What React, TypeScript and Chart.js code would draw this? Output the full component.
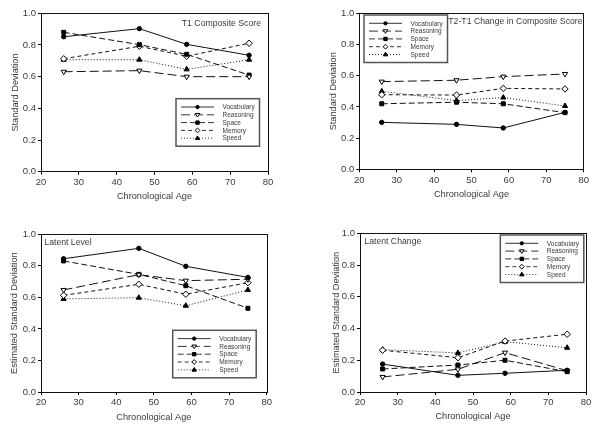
import React, { useEffect, useRef } from "react";
import { Chart, registerables } from "chart.js";

Chart.register(...registerables);

const AGES = [26, 46, 58.5, 75];
const SERIES_NAMES = ["Vocabulary", "Reasoning", "Space", "Memory", "Speed"];
const X_TITLE = "Chronological Age";

// values per series: Vocabulary, Reasoning, Space, Memory, Speed
const T1_COMPOSITE = [
  [0.852, 0.903, 0.804, 0.735],
  [0.631, 0.638, 0.6, 0.6],
  [0.88, 0.802, 0.741, 0.61],
  [0.713, 0.792, 0.729, 0.811],
  [0.707, 0.707, 0.646, 0.707],
];
const T2T1_CHANGE = [
  [0.301, 0.288, 0.265, 0.365],
  [0.562, 0.571, 0.594, 0.611],
  [0.42, 0.43, 0.42, 0.363],
  [0.478, 0.476, 0.519, 0.515],
  [0.5, 0.44, 0.46, 0.406],
];
const LATENT_LEVEL = [
  [0.845, 0.911, 0.797, 0.727],
  [0.647, 0.744, 0.706, 0.715],
  [0.831, 0.746, 0.674, 0.531],
  [0.613, 0.683, 0.62, 0.693],
  [0.59, 0.598, 0.547, 0.647],
];
const LATENT_CHANGE = [
  [0.176, 0.105, 0.118, 0.137],
  [0.095, 0.143, 0.248, 0.134],
  [0.145, 0.17, 0.2, 0.128],
  [0.263, 0.216, 0.321, 0.364],
  [0.267, 0.246, 0.317, 0.279],
];

const FONT = "'Liberation Sans', Arial, sans-serif";
const TEXT = "#3a3a3a";

type Marker = { shape: string; filled: boolean; r: number; dash: number[] };
const STYLES: Marker[] = [
  { shape: "circle", filled: true, r: 2.2, dash: [] },
  { shape: "down", filled: false, r: 3, dash: [9, 4] },
  { shape: "square", filled: true, r: 2.8, dash: [6, 3] },
  { shape: "diamond", filled: false, r: 3.2, dash: [4, 3] },
  { shape: "up", filled: true, r: 3, dash: [1, 2] },
];

function chartPointStyle(s: Marker) {
  if (s.shape === "circle") return { pointStyle: "circle", rotation: 0 };
  if (s.shape === "down") return { pointStyle: "triangle", rotation: 180 };
  if (s.shape === "square") return { pointStyle: "rect", rotation: 0 };
  if (s.shape === "diamond") return { pointStyle: "rectRot", rotation: 0 };
  return { pointStyle: "triangle", rotation: 0 };
}

function drawMarker(ctx: CanvasRenderingContext2D, s: Marker, x: number, y: number, r: number) {
  ctx.save();
  ctx.setLineDash([]);
  ctx.beginPath();
  if (s.shape === "circle") {
    ctx.arc(x, y, r, 0, Math.PI * 2);
  } else if (s.shape === "square") {
    ctx.rect(x - r * 0.8, y - r * 0.8, r * 1.6, r * 1.6);
  } else if (s.shape === "diamond") {
    ctx.moveTo(x, y - r);
    ctx.lineTo(x + r, y);
    ctx.lineTo(x, y + r);
    ctx.lineTo(x - r, y);
    ctx.closePath();
  } else if (s.shape === "down") {
    ctx.moveTo(x - r, y - r * 0.6);
    ctx.lineTo(x + r, y - r * 0.6);
    ctx.lineTo(x, y + r);
    ctx.closePath();
  } else {
    ctx.moveTo(x - r, y + r * 0.6);
    ctx.lineTo(x + r, y + r * 0.6);
    ctx.lineTo(x, y - r);
    ctx.closePath();
  }
  ctx.fillStyle = s.filled ? "#000" : "#fff";
  ctx.fill();
  ctx.strokeStyle = "#000";
  ctx.lineWidth = 1;
  ctx.stroke();
  ctx.restore();
}

type PanelSpec = {
  left: number;
  top: number;
  values: number[][];
  title: string;
  titleX: number;
  titleY: number;
  titleAlign: CanvasTextAlign;
  yTitle: string;
  pad: { left: number; right: number; top: number; bottom: number };
  wy: number;
  hx: number;
  legend: { x: number; y: number };
};

const PANELS: PanelSpec[] = [
  {
    left: 0, top: 0, values: T1_COMPOSITE, title: "T1 Composite Score",
    titleX: 261, titleY: 26, titleAlign: "right", yTitle: "Standard Deviation",
    pad: { left: 5, right: 32, top: 13.3, bottom: 14.3 }, wy: 36, hx: 30,
    legend: { x: 176, y: 98.7 },
  },
  {
    left: 300, top: 0, values: T2T1_CHANGE, title: "T2-T1 Change in Composite Score",
    titleX: 148.3, titleY: 24.3, titleAlign: "left", yTitle: "Standard Deviation",
    pad: { left: 23.6, right: 16.3, top: 13.3, bottom: 16.3 }, wy: 35.7, hx: 30.4,
    legend: { x: 64, y: 15 },
  },
  {
    left: 0, top: 216, values: LATENT_LEVEL, title: "Latent Level",
    titleX: 44.3, titleY: 29.3, titleAlign: "left", yTitle: "Estimated Standard Deviation",
    pad: { left: 4.3, right: 33.3, top: 18.3, bottom: 8.6 }, wy: 36.7, hx: 31.4,
    legend: { x: 172.7, y: 114.3 },
  },
  {
    left: 300, top: 216, values: LATENT_CHANGE, title: "Latent Change",
    titleX: 64.3, titleY: 28.3, titleAlign: "left", yTitle: "Estimated Standard Deviation",
    pad: { left: 26.3, right: 14, top: 17.3, bottom: 10.3 }, wy: 33.7, hx: 29.7,
    legend: { x: 200.3, y: 19 },
  },
];

function Panel({ spec }: { spec: PanelSpec }) {
  const ref = useRef<HTMLCanvasElement | null>(null);
  useEffect(() => {
    const canvas = ref.current;
    if (!canvas) return;

    const decor = {
      id: "decor",
      afterDraw(chart: any) {
        const ctx: CanvasRenderingContext2D = chart.ctx;
        const a = chart.chartArea;
        ctx.save();
        ctx.strokeStyle = "#111";
        ctx.lineWidth = 1;
        ctx.strokeRect(Math.round(a.left) + 0.5, Math.round(a.top) + 0.5, Math.round(a.right - a.left), Math.round(a.bottom - a.top));
        ctx.fillStyle = TEXT;
        ctx.font = `8.7px ${FONT}`;
        ctx.textAlign = spec.titleAlign;
        ctx.textBaseline = "alphabetic";
        ctx.fillText(spec.title, spec.titleX, spec.titleY);
        const bx = spec.legend.x, by = spec.legend.y, bw = 83.5, bh = 47.5;
        ctx.fillStyle = "#fff";
        ctx.fillRect(bx, by, bw, bh);
        ctx.strokeStyle = "#555";
        ctx.lineWidth = 1.5;
        ctx.strokeRect(bx, by, bw, bh);
        ctx.font = `6.5px ${FONT}`;
        ctx.textAlign = "left";
        ctx.textBaseline = "middle";
        SERIES_NAMES.forEach((name, i) => {
          const s = STYLES[i];
          const y = by + 8.3 + i * 7.8;
          ctx.save();
          ctx.strokeStyle = "#000";
          ctx.lineWidth = 0.8;
          ctx.setLineDash(s.dash);
          ctx.beginPath();
          ctx.moveTo(bx + 5, y);
          ctx.lineTo(bx + 38, y);
          ctx.stroke();
          ctx.restore();
          drawMarker(ctx, s, bx + 21.5, y, s.r * 0.75);
          ctx.fillStyle = TEXT;
          ctx.fillText(name, bx + 46.5, y + 0.5);
        });
        ctx.restore();
      },
    };

    const chart = new Chart(canvas, {
      type: "line",
      data: {
        datasets: SERIES_NAMES.map((name, i) => {
          const s = STYLES[i];
          const ps = chartPointStyle(s);
          return {
            label: name,
            data: AGES.map((a, j) => ({ x: a, y: spec.values[i][j] })),
            borderColor: "#111",
            borderWidth: 1,
            borderDash: s.dash,
            pointStyle: ps.pointStyle as any,
            rotation: ps.rotation,
            pointRadius: s.r,
            pointBorderWidth: 1,
            pointBorderColor: "#000",
            pointBackgroundColor: s.filled ? "#000" : "#fff",
            fill: false,
            tension: 0,
          };
        }),
      },
      options: {
        animation: false,
        responsive: false,
        devicePixelRatio: 1,
        layout: { padding: spec.pad },
        plugins: { legend: { display: false }, tooltip: { enabled: false } },
        scales: {
          x: {
            type: "linear",
            min: 20,
            max: 80,
            ticks: { stepSize: 10, color: TEXT, font: { family: FONT, size: 9.5 }, padding: 2, maxRotation: 0 },
            grid: { drawOnChartArea: false, drawTicks: true, tickLength: 3, color: "#000", lineWidth: 1 },
            border: { display: false },
            title: { display: true, text: X_TITLE, color: TEXT, font: { family: FONT, size: 9.2 }, padding: 0 },
            afterFit: (s: any) => { s.height = spec.hx; },
          },
          y: {
            type: "linear",
            min: 0,
            max: 1,
            ticks: {
              stepSize: 0.2,
              color: TEXT,
              font: { family: FONT, size: 9.5 },
              padding: 2,
              callback: (v: any) => Number(v).toFixed(1),
            },
            grid: { drawOnChartArea: false, drawTicks: true, tickLength: 3, color: "#000", lineWidth: 1 },
            border: { display: false },
            title: { display: true, text: spec.yTitle, color: TEXT, font: { family: FONT, size: 9.2 }, padding: { top: 4.5, bottom: 0 } },
            afterFit: (s: any) => { s.width = spec.wy; },
          },
        },
      } as any,
      plugins: [decor],
    });
    return () => chart.destroy();
  }, [spec]);

  return (
    <canvas
      ref={ref}
      width={300}
      height={216}
      style={{ position: "absolute", left: spec.left, top: spec.top, width: 300, height: 216 }}
    />
  );
}

export default function App() {
  return (
    <div style={{ position: "absolute", left: 0, top: 0, width: 600, height: 432, background: "#fff" }}>
      {PANELS.map((p, i) => (
        <Panel key={i} spec={p} />
      ))}
    </div>
  );
}
